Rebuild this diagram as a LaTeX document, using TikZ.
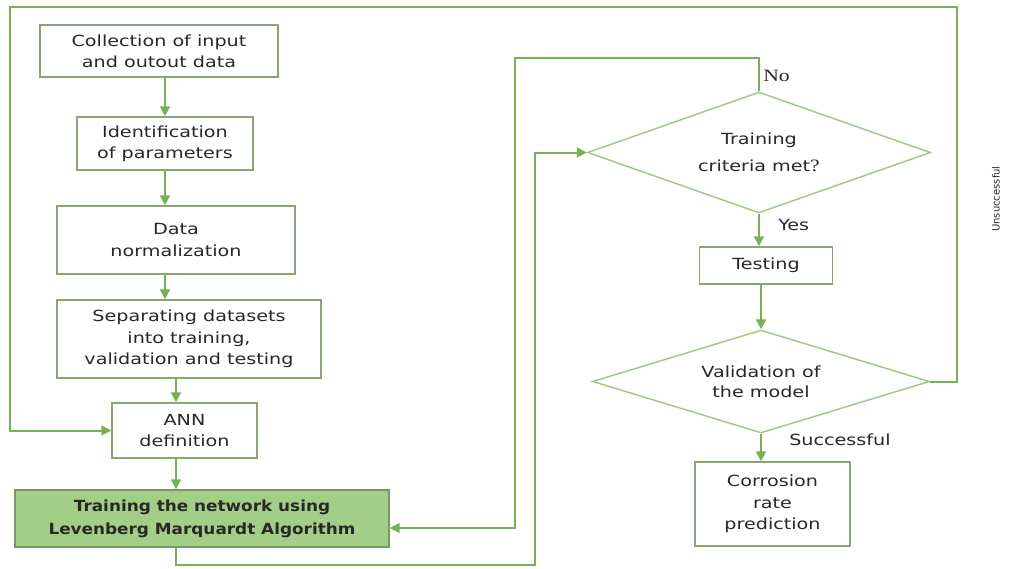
\documentclass[tikz,border=0pt]{standalone}
\usepackage{fontspec}
\setmainfont{DejaVu Sans}[FakeStretch=1.25]
\newfontfamily\trainf{DejaVu Sans}[FakeStretch=1.1]
\newfontfamily\serf{Liberation Serif}[FakeStretch=1.25]
\newfontfamily\smallf{DejaVu Sans}
\usetikzlibrary{shapes.geometric,arrows.meta}
\definecolor{linec}{RGB}{122,176,84}
\definecolor{boxc}{RGB}{140,165,115}
\definecolor{diac}{RGB}{160,202,130}
\definecolor{fillc}{RGB}{163,206,135}
\definecolor{txtc}{RGB}{40,40,40}
\tikzset{
  box/.style={draw=boxc, line width=1.1pt, fill=white, align=center, inner sep=0pt, text=txtc,
    font=\fontsize{11.5}{16}\selectfont},
  dia/.style={diamond, draw=diac, line width=1.1pt, fill=white, inner sep=0pt, align=center, text=txtc,
    font=\fontsize{11.5}{16}\selectfont},
  arr/.style={draw=linec, line width=1.5pt, -{Triangle[length=7.5pt,width=7.5pt]}},
  lbl/.style={anchor=west, inner sep=0pt, text=txtc, font=\fontsize{11.5}{14}\selectfont},
}
\begin{document}
\begin{tikzpicture}[x=0.75pt,y=-0.75pt]
\useasboundingbox[fill=white] (0,0) rectangle (1014,568);
% left column
\node[box, minimum width=178.5pt, minimum height=39pt] (c1) at (159,51) {Collection of input\\and outout data};
\node[box, minimum width=132pt, minimum height=39.75pt] (c2) at (165,143.5) {Identification\\of parameters};
\node[box, minimum width=178.5pt, minimum height=51pt] (c3) at (176,240) {Data\\normalization};
\node[box, minimum width=198pt, minimum height=58.5pt] (c4) at (189,339) {Separating datasets\\into training,\\validation and testing};
\node[box, minimum width=108.75pt, minimum height=41.25pt] (c5) at (184.5,430.5) {ANN\\definition};
\node[box, fill=fillc, draw=boxc!90!black, minimum width=280.5pt, minimum height=42.75pt,
  font=\trainf\bfseries\fontsize{11.5}{17}\selectfont] (c6) at (202,518.5) {Training the network using\\Levenberg Marquardt Algorithm};
% right column
\node[dia, aspect=2.83, minimum width=257.25pt, minimum height=90.75pt, font=\fontsize{11.5}{20}\selectfont] (d1) at (759,152.5) {Training\\criteria met{\serf\fontsize{13}{20}\selectfont ?}};
\node[box, minimum width=99.75pt, minimum height=27.75pt] (t) at (766,265.5) {Testing};
\node[dia, aspect=3.27, minimum width=252.75pt, minimum height=77.25pt, font=\fontsize{11.5}{15}\selectfont] (d2) at (761,381.5) {Validation of\\the model};
\node[box, minimum width=116.25pt, minimum height=63pt] (p) at (772.5,504) {Corrosion\\rate\\prediction};
% helper coordinates
\coordinate (colB) at (176,0);
\coordinate (b1) at (535,565);
\coordinate (n1) at (515,58);
\coordinate (n2) at (515,528);
\coordinate (u1) at (957,7);
\coordinate (u0) at (10,7);
% connectors
\draw[arr] (c1.south -| c2.north) -- (c2.north);
\draw[arr] (c2.south) -- (c2.south |- c3.north);
\draw[arr] (c3.south -| c2.south) -- (c4.north -| c2.south);
\draw[arr] (c4.south -| colB) -- (c5.north -| colB);
\draw[arr] (c5.south -| colB) -- (c6.north -| colB);
\draw[arr] (c6.south -| colB) |- (b1) |- (d1.west);
\draw[arr] (d1.north) |- (n1) -- (n2) -- (n2 -| c6.east);
\draw[arr] (d1.south) -- (d1.south |- t.north);
\draw[arr] (t.south -| d2.north) -- (d2.north);
\draw[arr] (d2.south) -- (d2.south |- p.north);
\draw[arr] (d2.east) -| (u1) -- (u0) |- (c5.west);
% labels
\node[lbl, font=\serf\fontsize{13}{14}\selectfont] (lno) at (763,76) {No};
\node[lbl] (lyes) at (778,225) {Yes};
\node[lbl] (lsucc) at (789,440) {Successful};
\node[inner sep=0pt, rotate=90, text=txtc, font=\smallf\fontsize{7.5}{8}\selectfont] (lun) at (996,199) {Unsuccessful};
\end{tikzpicture}
\end{document}
